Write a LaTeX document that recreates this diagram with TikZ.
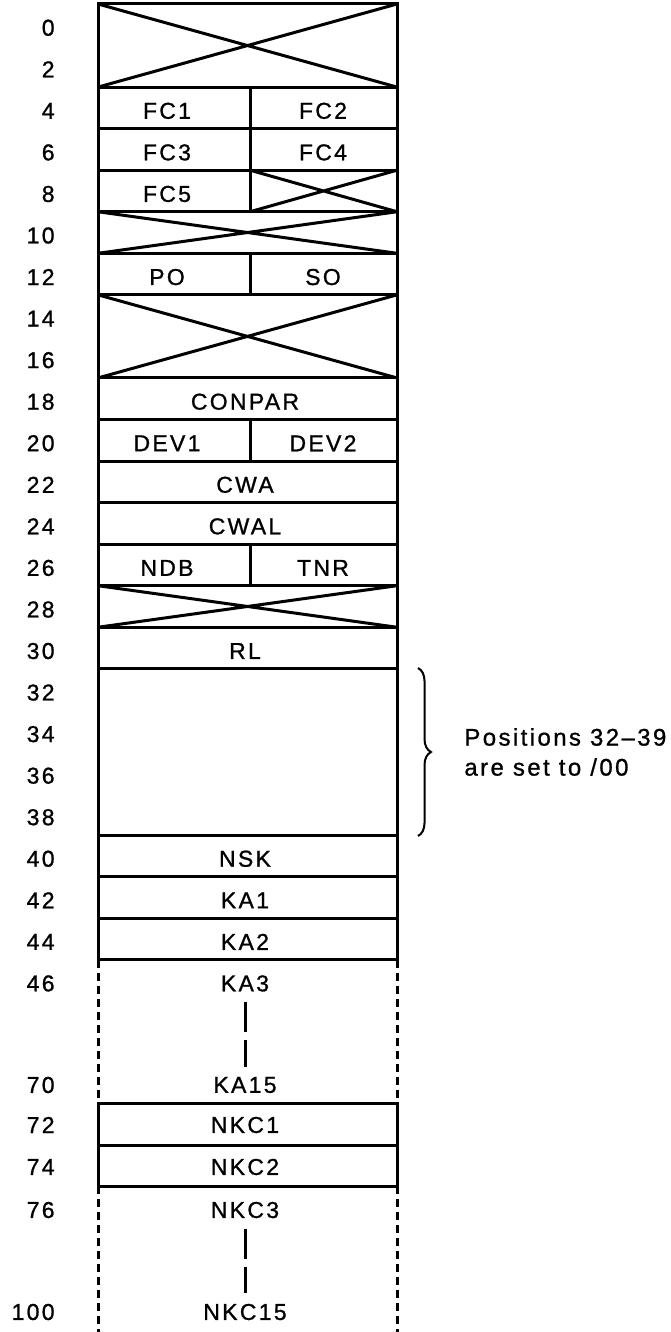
\documentclass[tikz,border=0pt]{standalone}
\usepackage{fontspec}
\usepackage{tikz}
\usetikzlibrary{decorations.pathreplacing}
\newfontfamily\slotfont{Liberation Sans}[LetterSpace=10,FakeBold=1]

\tikzset{
  slotline/.style={line width=1.5pt},
  gapline/.style={line width=1.5pt,dash pattern=on 4pt off 2.5pt},
  dotline/.style={line width=1.5pt,dash pattern=on 15pt off 4pt,shorten >=5pt,shorten <=5pt},
  posnum/.style={anchor=east,inner sep=0pt,yshift=-1.5pt},
  slotlabel/.style={inner sep=0pt,yshift=-1.5pt},
}

\begin{document}
\begin{tikzpicture}[x=0.5pt,y={(0,-0.5pt)},font=\slotfont\fontsize{11.5}{15}\selectfont]
\useasboundingbox (0,0) rectangle (670,1332);

% fixed part, one unit of y is one row of two positions
\begin{scope}[shift={(0,4)},y={(0,-20.775pt)}]
  \draw[slotline] (98,0) rectangle (397,23);
  \foreach \r in {2,3,4,5,6,7,9,10,11,12,13,14,15,16,20,21,22}
    \draw[slotline] (98,\r) -- (397,\r);
  \foreach \r in {2,3,4,6,10,13}
    \draw[slotline] (250,\r) -- (250,\r+1);
  % unused positions
  \draw[slotline] (98,0) -- (397,2) (98,2) -- (397,0);
  \draw[slotline] (250,4) -- (397,5) (250,5) -- (397,4);
  \draw[slotline] (98,5) -- (397,6) (98,6) -- (397,5);
  \draw[slotline] (98,7) -- (397,9) (98,9) -- (397,7);
  \draw[slotline] (98,14) -- (397,15) (98,15) -- (397,14);

  \foreach \p in {0,2,...,46}
    \node[posnum] (p\p) at (55,\p/2+0.5) {\p};

  \node[slotlabel] (fc1) at (167,2.5) {FC1};
  \node[slotlabel] (fc2) at (323,2.5) {FC2};
  \node[slotlabel] (fc3) at (167,3.5) {FC3};
  \node[slotlabel] (fc4) at (323,3.5) {FC4};
  \node[slotlabel] (fc5) at (167,4.5) {FC5};
  \node[slotlabel] (po) at (167,6.5) {PO};
  \node[slotlabel] (so) at (323,6.5) {SO};
  \node[slotlabel] (conpar) at (245,9.5) {CONPAR};
  \node[slotlabel] (dev1) at (167,10.5) {DEV1};
  \node[slotlabel] (dev2) at (323,10.5) {DEV2};
  \node[slotlabel] (cwa) at (245,11.5) {CWA};
  \node[slotlabel] (cwal) at (245,12.5) {CWAL};
  \node[slotlabel] (ndb) at (167,13.5) {NDB};
  \node[slotlabel] (tnr) at (323,13.5) {TNR};
  \node[slotlabel] (rl) at (245,15.5) {RL};
  \node[slotlabel] (nsk) at (245,20.5) {NSK};
  \node[slotlabel] (ka1) at (245,21.5) {KA1};
  \node[slotlabel] (ka2) at (245,22.5) {KA2};
  \node[slotlabel] (ka3) at (245,23.5) {KA3};
\end{scope}

% repeated part
\draw[gapline] (98,960) -- (98,1103) (397,960) -- (397,1103);
\draw[gapline] (98,1186) -- (98,1332) (397,1186) -- (397,1332);
\draw[slotline] (98,1103) rectangle (397,1186);
\draw[slotline] (98,1145) -- (397,1145);

\node[posnum] (p70) at (55,1082) {70};
\node[posnum] (p72) at (55,1122) {72};
\node[posnum] (p74) at (55,1164) {74};
\node[posnum] (p76) at (55,1207) {76};
\node[posnum] (p100) at (55,1309) {100};

\node[slotlabel] (ka15) at (245,1082) {KA15};
\node[slotlabel] (nkc1) at (245,1122) {NKC1};
\node[slotlabel] (nkc2) at (245,1164) {NKC2};
\node[slotlabel] (nkc3) at (245,1207) {NKC3};
\node[slotlabel] (nkc15) at (245,1309) {NKC15};

\draw[dotline] (ka3) -- (ka15);
\draw[dotline] (nkc3) -- (nkc15);

% note on the blank positions
\draw[line width=1pt,decorate,decoration={brace,amplitude=6.5pt}] (418,668) -- (418,836);
\node[anchor=west,align=left,inner sep=0pt,font=\slotfont\fontsize{12}{15}\selectfont] (note) at (464,752) {Positions 32–39\\are set to /00};
\end{tikzpicture}
\end{document}
